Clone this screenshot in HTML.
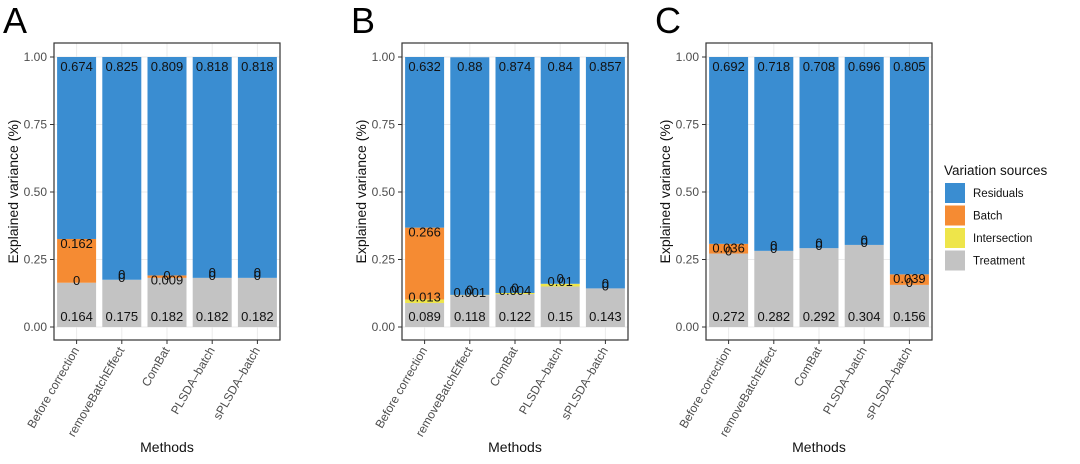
<!DOCTYPE html>
<html><head><meta charset="utf-8"><style>
html,body{margin:0;padding:0;background:#fff;}
svg{display:block;font-family:"Liberation Sans",sans-serif;}
</style></head><body>
<svg id="chart" width="1080" height="464" viewBox="0 0 1080 464"></svg>
<script>
const methods = ["Before correction","removeBatchEffect","ComBat","PLSDA\u2013batch","sPLSDA\u2013batch"];
const panelLetters = ["A","B","C"];
const residA = [0.674,0.825,0.809,0.818,0.818];
const batchA = [0.162,0,0.009,0,0];
const interA = [0,0,0,0,0];
const treatA = [0.164,0.175,0.182,0.182,0.182];
const residB = [0.632,0.88,0.874,0.84,0.857];
const batchB = [0.266,0,0,0,0];
const interB = [0.013,0.001,0.004,0.01,0];
const treatB = [0.089,0.118,0.122,0.15,0.143];
const residC = [0.692,0.718,0.708,0.696,0.805];
const batchC = [0.036,0,0,0,0.039];
const interC = [0,0,0,0,0];
const treatC = [0.272,0.282,0.292,0.304,0.156];
const yTicks = [0,0.25,0.5,0.75,1];
const yTickLabels = ["0.00","0.25","0.50","0.75","1.00"];
const legendLabels = ["Residuals","Batch","Intersection","Treatment"];

const COL = {res:"#3a8dd1",batch:"#f58b33",inter:"#eee54a",treat:"#c3c3c3"};
const NS="http://www.w3.org/2000/svg";
const svgEl=document.getElementById('chart');
function mk(tag,attrs,parent){const e=document.createElementNS(NS,tag);for(const k in attrs)e.setAttribute(k,attrs[k]);(parent||svgEl).appendChild(e);return e;}

const panels=[
 {x0:54,res:residA,batch:batchA,inter:interA,treat:treatA},
 {x0:402,res:residB,batch:batchB,inter:interB,treat:treatB},
 {x0:706,res:residC,batch:batchC,inter:interC,treat:treatC}
];
const PW=226, plotTop=43, plotBot=340;
const yS=v=>327-v*270;

panels.forEach((p,pi)=>{
  const g=mk('g',{});
  
  
  const xS=i=>p.x0+PW*(i+0.5)/5;
  const bw=39;
  const L=mk('text',{x:p.x0-51,y:33,'font-size':36},g);L.textContent=panelLetters[pi];
  
  
  yTicks.forEach(t=>{mk('line',{x1:p.x0,x2:p.x0+PW,y1:yS(t),y2:yS(t),stroke:'#ebebeb','stroke-width':1},g);});
  methods.forEach((m,i)=>{mk('line',{x1:xS(i),x2:xS(i),y1:plotTop,y2:plotBot,stroke:'#ebebeb','stroke-width':1},g);});
  methods.forEach((m,i)=>{
    const t=p.treat[i],it=p.inter[i],b=p.batch[i],r=p.res[i];
    const segs=[[0,t,COL.treat,'treatment'],[t,t+it,COL.inter,'intersection'],[t+it,t+it+b,COL.batch,'batch'],[t+it+b,t+it+b+r,COL.res,'residuals']];
    segs.forEach(s=>{
      if(s[1]<=s[0])return;
      const rc=mk('rect',{x:xS(i)-bw/2,y:yS(s[1]),width:bw,height:yS(s[0])-yS(s[1]),fill:s[2]},g);
      
      
    });
    const labs=[[0.035,t],[t+it+0.005,it],[t+it+b-0.02,b],[0.96,r]];
    const adj=[0,0,(b===0?0.035:0),0];
    labs.forEach((l,k)=>{
      const tx=mk('text',{x:xS(i),y:yS(l[0]+adj[k]),'font-size':13,'text-anchor':'middle','dominant-baseline':'middle',fill:'#111'},g);
      tx.textContent=String(l[1]);
      
      
    });
    mk('line',{x1:xS(i),x2:xS(i),y1:plotBot,y2:plotBot+4,stroke:'#333'},g);
    const xl=mk('text',{x:xS(i)+3,y:plotBot+10,'font-size':12,'text-anchor':'end',fill:'#4d4d4d',transform:`rotate(-60 ${xS(i)+3} ${plotBot+10})`},g);
    xl.textContent=m;
    
    
  });
  yTicks.forEach((t,k)=>{
    mk('line',{x1:p.x0-4,x2:p.x0,y1:yS(t),y2:yS(t),stroke:'#333'},g);
    const yl=mk('text',{x:p.x0-7,y:yS(t)+4,'font-size':12,'text-anchor':'end',fill:'#4d4d4d'},g);
    yl.textContent=yTickLabels[k];
    
    
  });
  mk('rect',{x:p.x0,y:plotTop,width:PW,height:plotBot-plotTop,fill:'none',stroke:'#333','stroke-width':1.2},g);
  const yt=mk('text',{x:0,y:0,'font-size':14,'text-anchor':'middle',fill:'#111',transform:`translate(${p.x0-36},${(plotTop+plotBot)/2}) rotate(-90)`},g);
  yt.textContent='Explained variance (%)';
  
  
  const xt=mk('text',{x:p.x0+PW/2,y:452,'font-size':14,'text-anchor':'middle',fill:'#111'},g);
  xt.textContent='Methods';
  
  
});

const lg=mk('g',{});


const lt=mk('text',{x:944,y:175,'font-size':13.5,fill:'#111'},lg);lt.textContent='Variation sources';
const lcols=[COL.res,COL.batch,COL.inter,COL.treat];
legendLabels.forEach((l,k)=>{
  const y=183+k*22.5;
  mk('rect',{x:945,y:y,width:20,height:20,fill:lcols[k]},lg);
  const t=mk('text',{x:973,y:y+14,'font-size':11.5,fill:'#111'},lg);t.textContent=l;
  
  
});
</script>
</body></html>
